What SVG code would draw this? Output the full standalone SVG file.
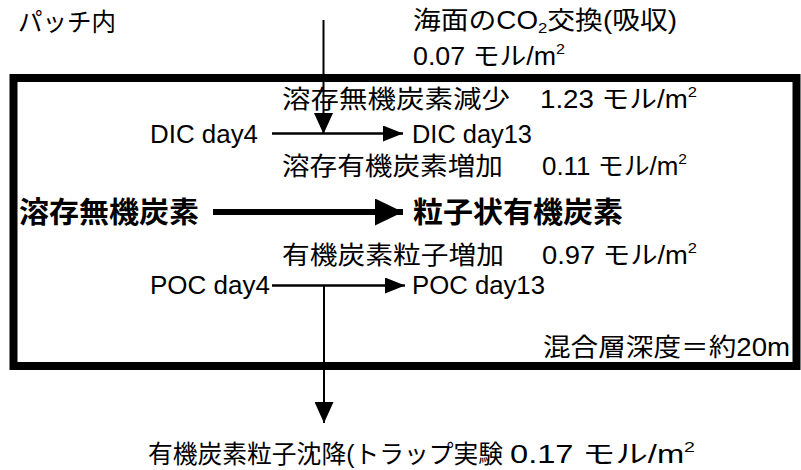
<svg xmlns="http://www.w3.org/2000/svg" width="801" height="470" viewBox="0 0 801 470">
<style>
text{font-family:"Liberation Sans","Noto Sans CJK JP",sans-serif;fill:#000;}
.s{font-size:25px;font-weight:normal;}
.b{font-size:29px;font-weight:600;}
.sup{font-size:15px;}
.ln{stroke:#000;fill:none;}
</style>
<defs>
<marker id="ah" markerUnits="userSpaceOnUse" markerWidth="20" markerHeight="16" refX="20" refY="8" orient="auto" viewBox="0 0 20 16"><path d="M0,0 L20,8 L0,16 z" fill="#000"/></marker>
<marker id="ahB" markerUnits="userSpaceOnUse" markerWidth="28" markerHeight="27" refX="28" refY="13.5" orient="auto" viewBox="0 0 28 27"><path d="M0,0 L28,13.5 L0,27 z" fill="#000"/></marker>
<marker id="ahV" markerUnits="userSpaceOnUse" markerWidth="21" markerHeight="19" refX="21" refY="9.5" orient="auto" viewBox="0 0 21 19"><path d="M0,0 L21,9.5 L0,19 z" fill="#000"/></marker>
</defs>
<rect width="801" height="470" fill="#fff"/>
<g id="patch-box">
<rect x="13.5" y="78" width="783" height="288" fill="none" stroke="#000" stroke-width="8"/>
</g>
<g id="connectors">
<line class="ln" x1="323.5" y1="20" x2="323.5" y2="134" stroke-width="2" marker-end="url(#ahV)"/>
<line class="ln" x1="272" y1="133.5" x2="403" y2="133.5" stroke-width="2.5" marker-end="url(#ah)"/>
<line class="ln" x1="213" y1="212" x2="403" y2="212" stroke-width="6" marker-end="url(#ahB)"/>
<line class="ln" x1="272" y1="285.5" x2="405" y2="285.5" stroke-width="2.5" marker-end="url(#ah)"/>
<line class="ln" x1="324" y1="285.5" x2="324" y2="423" stroke-width="2" marker-end="url(#ahV)"/>
</g>
<g id="label-patch"><text class="s" x="18" y="31" textLength="98" lengthAdjust="spacingAndGlyphs">パッチ内</text></g>
<g id="label-co2">
<text class="s" x="413" y="29" textLength="264" lengthAdjust="spacingAndGlyphs">海面のCO<tspan class="sup" dy="4">2</tspan><tspan dy="-4">交換(吸収)</tspan></text>
<text class="s" x="413" y="65" textLength="152" lengthAdjust="spacingAndGlyphs">0.07 モル/m<tspan class="sup" dy="-11">2</tspan></text>
</g>
<g id="label-dic-decrease">
<text class="s" x="282" y="108" textLength="228" lengthAdjust="spacingAndGlyphs">溶存無機炭素減少</text>
<text class="s" x="540" y="108" textLength="157" lengthAdjust="spacingAndGlyphs">1.23 モル/m<tspan class="sup" dy="-11">2</tspan></text>
</g>
<g id="node-dic4"><text class="s" x="150" y="143" textLength="108" lengthAdjust="spacingAndGlyphs">DIC day4</text></g>
<g id="node-dic13"><text class="s" x="412" y="143" textLength="120" lengthAdjust="spacingAndGlyphs">DIC day13</text></g>
<g id="label-doc-increase">
<text class="s" x="282" y="175" textLength="221" lengthAdjust="spacingAndGlyphs">溶存有機炭素増加</text>
<text class="s" x="542" y="175" textLength="145" lengthAdjust="spacingAndGlyphs">0.11 モル/m<tspan class="sup" dy="-11">2</tspan></text>
</g>
<g id="node-dic"><text class="b" x="19" y="223" textLength="180" lengthAdjust="spacingAndGlyphs">溶存無機炭素</text></g>
<g id="node-poc"><text class="b" x="413" y="223" textLength="210" lengthAdjust="spacingAndGlyphs">粒子状有機炭素</text></g>
<g id="label-poc-increase">
<text class="s" x="282" y="264" textLength="222" lengthAdjust="spacingAndGlyphs">有機炭素粒子増加</text>
<text class="s" x="542" y="264" textLength="155" lengthAdjust="spacingAndGlyphs">0.97 モル/m<tspan class="sup" dy="-11">2</tspan></text>
</g>
<g id="node-poc4"><text class="s" x="150" y="294" textLength="120" lengthAdjust="spacingAndGlyphs">POC day4</text></g>
<g id="node-poc13"><text class="s" x="412" y="294" textLength="133" lengthAdjust="spacingAndGlyphs">POC day13</text></g>
<g id="label-depth"><text class="s" x="543" y="356" textLength="247" lengthAdjust="spacingAndGlyphs">混合層深度＝約20m</text></g>
<g id="label-sinking">
<text class="s" x="148" y="463" textLength="355" lengthAdjust="spacingAndGlyphs">有機炭素粒子沈降(トラップ実験</text>
<text class="s" x="510" y="463" textLength="185" lengthAdjust="spacingAndGlyphs">0.17 モル/m<tspan class="sup" dy="-11">2</tspan></text>
</g>
</svg>
